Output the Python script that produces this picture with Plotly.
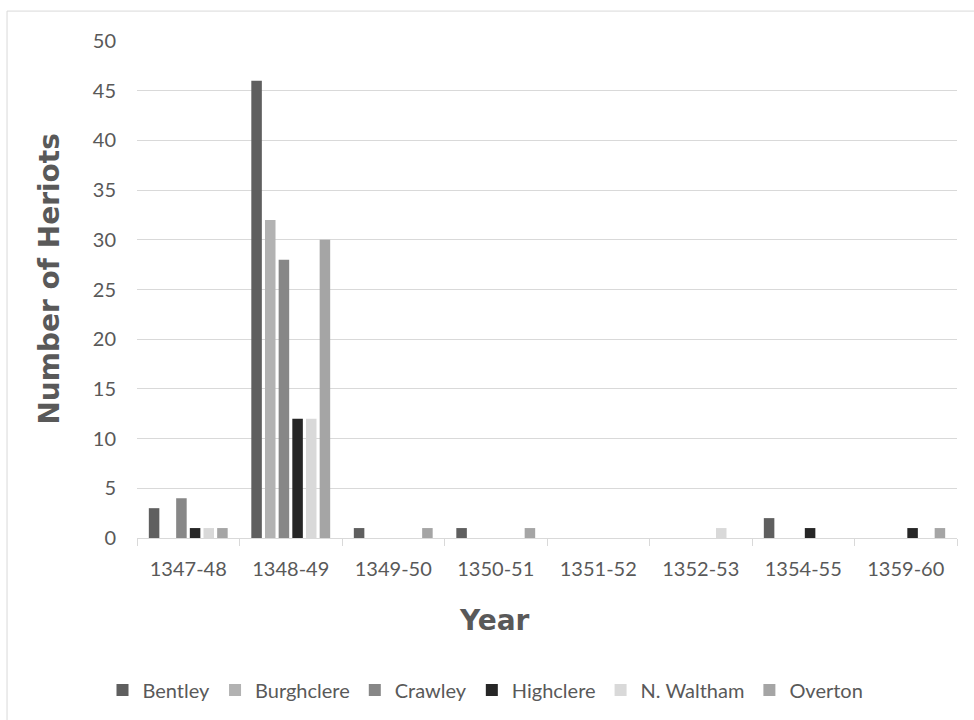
import plotly.graph_objects as go

# Heriots recorded per manor and accounting year
years = ["1347-48", "1348-49", "1349-50", "1350-51", "1351-52", "1352-53", "1354-55", "1359-60"]
manors = ["Bentley", "Burghclere", "Crawley", "Highclere", "N. Waltham", "Overton"]

bentley = [3, 46, 1, 1, 0, 0, 2, 0]
burghclere = [0, 32, 0, 0, 0, 0, 0, 0]
crawley = [4, 28, 0, 0, 0, 0, 0, 0]
highclere = [1, 12, 0, 0, 0, 0, 1, 1]
n_waltham = [1, 12, 0, 0, 0, 1, 0, 0]
overton = [1, 30, 1, 1, 0, 0, 0, 1]

series = [bentley, burghclere, crawley, highclere, n_waltham, overton]
colors = ["#5f5f5f", "#b2b2b2", "#878787", "#262626", "#d9d9d9", "#a5a5a5"]

y_ticks = [0, 5, 10, 15, 20, 25, 30, 35, 40, 45, 50]

GREY_TEXT = "#595959"
GRID = "#d9d9d9"
TICK_FONT = dict(family="Lato, Liberation Sans, sans-serif", size=20, color=GREY_TEXT)
TITLE_FONT = dict(family="DejaVu Sans, sans-serif", size=28, color=GREY_TEXT, weight="bold")

fig = go.Figure()
for name, vals, col in zip(manors, series, colors):
    fig.add_trace(go.Bar(
        x=years, y=vals, name=name,
        marker=dict(color=col, line=dict(width=0)),
    ))

fig.update_layout(
    width=974, height=720,
    margin=dict(l=137, r=17, t=41, b=181),
    paper_bgcolor="white", plot_bgcolor="white",
    barmode="group", bargap=0.2, bargroupgap=0.23,
    showlegend=True,
    legend=dict(
        orientation="h", x=0.425, xanchor="center",
        y=-0.303, yanchor="middle",
        font=TICK_FONT, itemwidth=30,
        traceorder="normal",
    ),
    xaxis=dict(
        type="category",
        showline=True, linecolor=GRID, linewidth=1,
        ticks="outside", tickson="boundaries", ticklen=7, tickcolor=GRID,
        tickfont=TICK_FONT, showgrid=False,
        ticklabelstandoff=13,
    ),
    yaxis=dict(
        range=[0, 50], tickvals=y_ticks,
        showgrid=True, gridcolor=GRID, gridwidth=1,
        zeroline=False, showline=False,
        tickfont=TICK_FONT,
        ticklabelstandoff=20,
    ),
    annotations=[
        dict(text="Number of Heriots", xref="paper", yref="paper",
             x=-0.1061, y=0.522, textangle=-90, showarrow=False,
             xanchor="center", yanchor="middle", font=TITLE_FONT),
        dict(text="Year", xref="paper", yref="paper",
             x=0.436, y=-0.1657, showarrow=False,
             xanchor="center", yanchor="middle", font=TITLE_FONT),
    ],
    shapes=[
        dict(type="rect", xref="paper", yref="paper",
             x0=-0.1585, x1=1.06, y0=-0.5, y1=1.0602,
             line=dict(color=GRID, width=1), fillcolor="rgba(0,0,0,0)",
             layer="below"),
    ],
)

fig.write_html("out.html")
